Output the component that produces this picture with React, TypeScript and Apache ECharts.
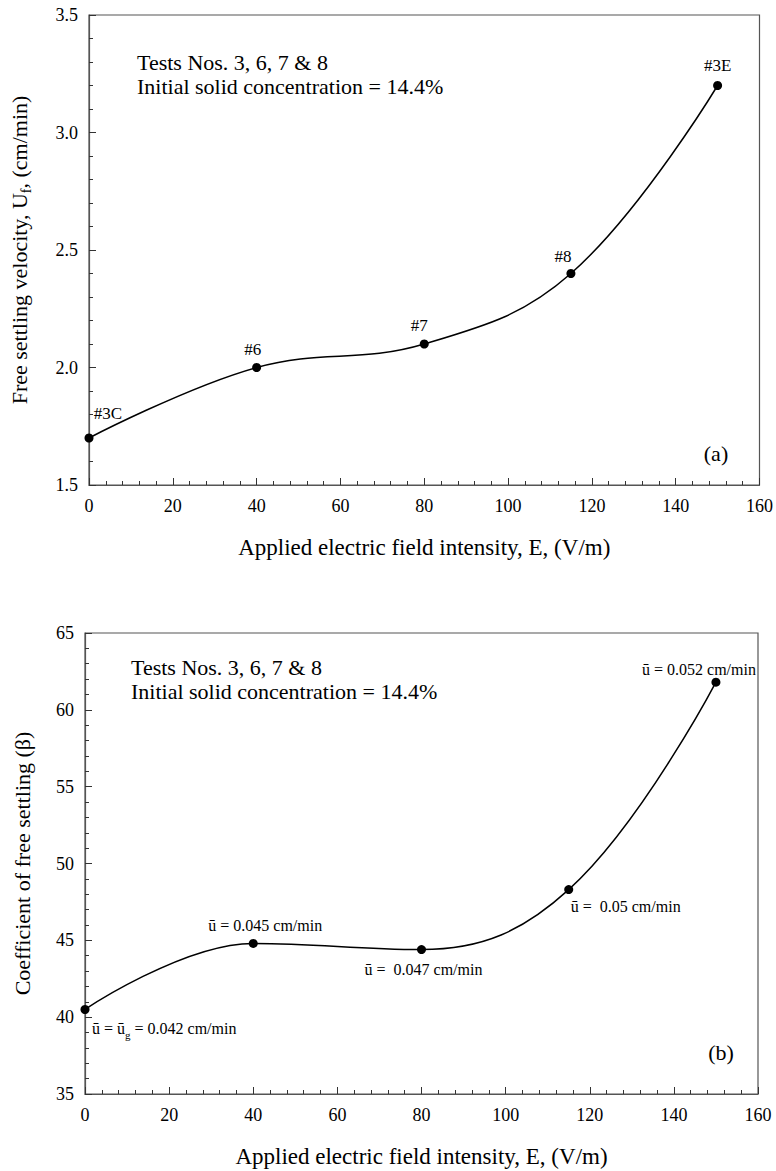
import React, { useEffect, useRef } from "react";
import * as echarts from "echarts";

const fieldIntensity = [0, 40, 80, 115, 150];
const settlingVelocity = [1.7, 2.0, 2.1, 2.4, 3.2];
const betaCoefficient = [40.5, 44.8, 44.4, 48.3, 61.8];
const velocityLabels = ["#3C", "#6", "#7", "#8", "#3E"];
const betaLabels = [
  "{t|ū = ū}{s|g}{t| = 0.042 cm/min}",
  "ū = 0.045 cm/min",
  "ū =  0.047 cm/min",
  "ū =  0.05 cm/min",
  "ū = 0.052 cm/min",
];
const xTicks = { min: 0, max: 160, interval: 20 };
const yTicksTop = { min: 1.5, max: 3.5, interval: 0.5 };
const yTicksBottom = { min: 35, max: 65, interval: 5 };

const SERIF = "'Liberation Serif', 'Times New Roman', Times, serif";

// label placement (style only)
const topLabelOffsets = [
  [19, -25],
  [-4, -18],
  [-5, -19],
  [-8, -17],
  [0, -20],
];
const bottomLabelStyle = [
  { align: "left", offset: [7, 19] },
  { align: "center", offset: [12, -18] },
  { align: "center", offset: [2, 20] },
  { align: "left", offset: [2, 17] },
  { align: "right", offset: [40, -13] },
];

function xAxisDef(gridIndex: number) {
  return {
    type: "value",
    gridIndex,
    min: xTicks.min,
    max: xTicks.max,
    interval: xTicks.interval,
    name: "Applied electric field intensity, E, (V/m)",
    nameLocation: "middle",
    nameGap: 51,
    nameTextStyle: { fontFamily: SERIF, fontSize: 23, color: "#000" },
    axisLine: { show: true, lineStyle: { color: "#555", width: 1.2 } },
    axisTick: { show: true, inside: true, length: 7, lineStyle: { color: "#333" } },
    minorTick: { show: true, splitNumber: 5, length: 4, lineStyle: { color: "#333" } },
    splitLine: { show: false },
    minorSplitLine: { show: false },
    axisLabel: { fontFamily: SERIF, fontSize: 18, color: "#000", margin: 12 },
  };
}

function yAxisDef(gridIndex: number, t: any, name: string, gap: number, digits: number, rich?: any) {
  return {
    type: "value",
    gridIndex,
    min: t.min,
    max: t.max,
    interval: t.interval,
    name,
    nameLocation: "middle",
    nameGap: gap,
    nameRotate: 90,
    nameTextStyle: { fontFamily: SERIF, fontSize: 22, color: "#000", rich },
    axisLine: { show: true, lineStyle: { color: "#555", width: 1.2 } },
    axisTick: { show: true, inside: true, length: 7, lineStyle: { color: "#333" } },
    minorTick: { show: true, splitNumber: 5, length: 4, lineStyle: { color: "#333" } },
    splitLine: { show: false },
    minorSplitLine: { show: false },
    axisLabel: {
      fontFamily: SERIF,
      fontSize: 18,
      color: "#000",
      margin: 11,
      formatter: (v: number) => v.toFixed(digits),
    },
  };
}

export default function App() {
  const ref = useRef<HTMLDivElement>(null);
  useEffect(() => {
    document.body.style.margin = "0";
    if (!ref.current) return;
    const chart = echarts.init(ref.current, null, { renderer: "svg" });
    const lineCommon = {
      type: "line",
      smooth: 0.4,
      symbol: "circle",
      symbolSize: 9,
      itemStyle: { color: "#000" },
      lineStyle: { color: "#000", width: 1.5 },
      clip: false,
    };
    const noteText = "Tests Nos. 3, 6, 7 & 8\nInitial solid concentration = 14.4%";
    const option: any = {
      animation: false,
      backgroundColor: "#fff",
      textStyle: { fontFamily: SERIF },
      grid: [
        { left: 89, top: 15, width: 672, height: 470, show: true, borderColor: "#555", borderWidth: 1.2 },
        { left: 85, top: 633, width: 673, height: 461, show: true, borderColor: "#555", borderWidth: 1.2 },
      ],
      xAxis: [xAxisDef(0), xAxisDef(1)],
      yAxis: [
        yAxisDef(0, yTicksTop, "{n|Free settling velocity, U}{s|f}{n|, (cm/min)}", 56, 1, {
          n: { fontFamily: SERIF, fontSize: 22, color: "#000", lineHeight: 28, verticalAlign: "middle" },
          s: { fontFamily: SERIF, fontSize: 14, color: "#000", lineHeight: 28, verticalAlign: "bottom" },
        }),
        yAxisDef(1, yTicksBottom, "Coefficient of free settling (β)", 52, 0),
      ],
      series: [
        {
          ...lineCommon,
          xAxisIndex: 0,
          yAxisIndex: 0,
          data: fieldIntensity.map((x, i) => ({
            value: [x, settlingVelocity[i]],
            label: {
              show: true,
              position: "inside",
              align: "center",
              verticalAlign: "middle",
              offset: topLabelOffsets[i],
              formatter: velocityLabels[i],
              fontFamily: SERIF,
              fontSize: 17,
              color: "#000",
            },
          })),
        },
        {
          ...lineCommon,
          xAxisIndex: 1,
          yAxisIndex: 1,
          data: fieldIntensity.map((x, i) => ({
            value: [x, betaCoefficient[i]],
            label: {
              show: true,
              position: "inside",
              align: bottomLabelStyle[i].align,
              verticalAlign: "middle",
              offset: bottomLabelStyle[i].offset,
              formatter: betaLabels[i],
              fontFamily: SERIF,
              fontSize: 16,
              color: "#000",
              rich: {
                t: { fontFamily: SERIF, fontSize: 16, color: "#000", lineHeight: 24, verticalAlign: "middle" },
                s: { fontFamily: SERIF, fontSize: 11, color: "#000", lineHeight: 24, verticalAlign: "bottom" },
              },
            },
          })),
        },
      ],
      graphic: [
        {
          type: "text",
          x: 137,
          y: 50,
          style: { text: noteText, fontFamily: SERIF, fontSize: 22, lineHeight: 24, fill: "#000" },
        },
        {
          type: "text",
          x: 131,
          y: 655,
          style: { text: noteText, fontFamily: SERIF, fontSize: 22, lineHeight: 24, fill: "#000" },
        },
        {
          type: "text",
          x: 716,
          y: 453,
          style: { text: "(a)", fontFamily: SERIF, fontSize: 22, fill: "#000", align: "center", verticalAlign: "middle" },
        },
        {
          type: "text",
          x: 721,
          y: 1052,
          style: { text: "(b)", fontFamily: SERIF, fontSize: 22, fill: "#000", align: "center", verticalAlign: "middle" },
        },
      ],
    };
    chart.setOption(option);
    return () => chart.dispose();
  }, []);
  return <div ref={ref} style={{ width: 776, height: 1171 }} />;
}
